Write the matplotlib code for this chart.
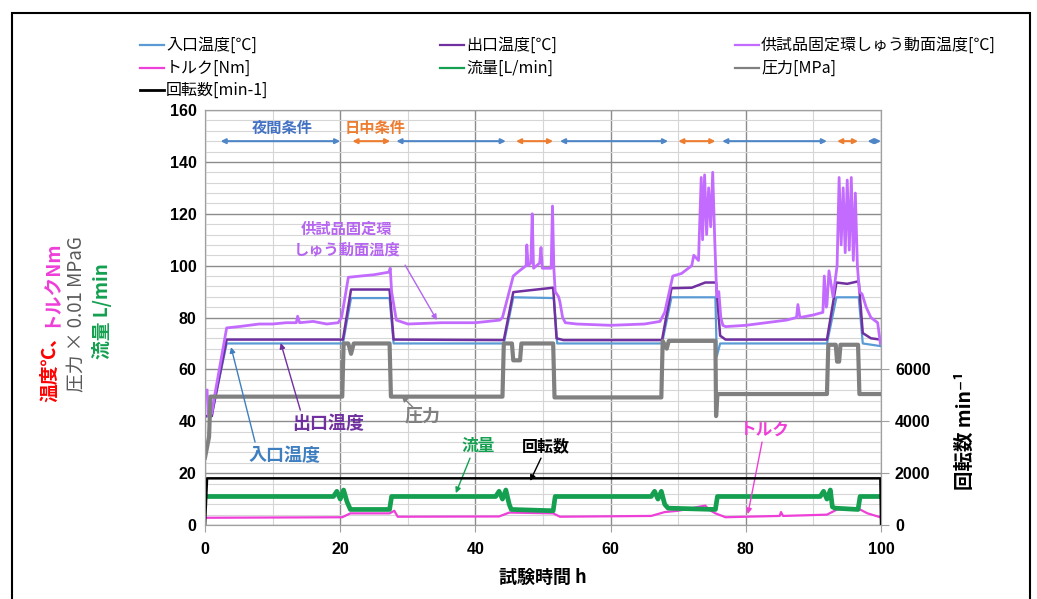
import matplotlib
matplotlib.use('Agg')
import matplotlib.pyplot as plt
from matplotlib.lines import Line2D
from matplotlib.patches import Rectangle
from matplotlib.ticker import MultipleLocator

NUM = ['Liberation Sans', 'DejaVu Sans']
JP = ['Noto Sans CJK JP', 'DejaVu Sans']
plt.rcParams['font.family'] = NUM

# --- data (time in h) ---
t_in = [0.3, 1.0, 1.2, 3.2, 20.4, 21.6, 27.3, 27.9, 44.2, 45.6, 51.6, 52.1,
        67.6, 69.0, 75.5, 75.7, 76.2, 92.0, 93.4, 96.7, 97.3, 99.9]
inlet = [42, 42, 45, 70, 70, 87.5, 87.5, 70, 70, 87.8, 87.5, 70,
         70, 87.8, 87.8, 65, 70, 70, 87.8, 87.8, 70, 69]

t_out = [0.3, 1.0, 1.2, 3.2, 20.4, 21.6, 27.3, 27.9, 44.2, 45.6, 48, 51.5, 52.0, 53,
         67.6, 69.0, 72, 74, 75.6, 76.2, 77, 92.0, 93.4, 95, 96.7, 97.3, 98.5, 99.9]
outlet = [42, 42, 45, 71.5, 71.5, 90.8, 90.8, 71.5, 71.3, 89.8, 90.5, 91.5, 72, 71.3,
          71.3, 91.3, 91.5, 93.5, 93.5, 73, 71.5, 71.5, 93.5, 93, 94, 74, 72, 71.5]

t_surf = [0.3, 0.5, 1.0, 1.3, 3.2, 5, 8, 10, 12, 13.5, 13.7, 14, 16, 18, 19.7, 20.2,
          21.2, 23, 25, 27.2, 27.4, 27.6, 28.3, 30, 35, 40, 43.6, 44.0, 45.6, 46.5,
          47.5, 47.6, 47.8, 48.2, 48.4, 48.6, 49.5, 49.7, 49.9, 51.2, 51.4, 51.6,
          51.8, 52.3, 52.5, 52.9, 53.3, 55, 60, 65, 67.3, 68.0, 69.2, 70.5, 72.0,
          72.3, 73.0, 73.4, 73.6, 73.9, 74.2, 74.5, 74.8, 75.1, 75.4, 75.7, 76.0,
          76.3, 76.6, 77, 80, 83, 86, 87.5, 87.7, 88, 90, 91.4, 91.6, 91.9, 92.0,
          92.3, 92.9, 93.5, 93.8, 94.1, 94.4, 94.7, 95.0, 95.3, 95.6, 95.9, 96.2,
          96.5, 96.8, 97.2, 97.8, 98.5, 99.5, 99.9]
surface = [52, 42, 43, 48, 76, 76.5, 77.5, 77.5, 78, 78, 80.5, 78, 78.5, 77.5, 78, 80,
           95.5, 96, 96.5, 97.5, 99, 90, 79, 77.5, 78, 78, 79, 80, 96, 98,
           100, 108, 100, 101, 120, 99, 101, 107, 99, 99, 123, 99,
           90, 88, 86, 80, 78, 77.5, 77, 77.5, 78.5, 82, 96, 97, 100,
           104, 102, 134, 110, 135, 112, 130, 115, 136, 110, 88, 90,
           80, 77, 76.5, 77, 78, 79, 80, 85, 80, 81, 82, 96, 84, 85,
           98, 88, 100, 134, 108, 130, 105, 133, 106, 134, 102, 128,
           100, 90, 89, 84, 80, 78, 70]

t_torque = [0.3, 20.3, 21.5, 27.3, 28, 28.5, 43.5, 45, 51.5, 52.5, 66, 68, 70, 72,
            74, 74.5, 75.5, 77, 80, 85, 85.2, 85.5, 92, 93.5, 96.5, 98, 99.9]
torque = [2.8, 3, 4.5, 4.5, 5.5, 3.2, 3.3, 4.8, 4.5, 3.2, 3.5, 5, 5.5, 6.5,
          7.5, 6, 4.5, 3, 3.2, 3.5, 5, 3.5, 4, 6, 6.5, 4.5, 3]

t_flow = [0.3, 19.0, 19.5, 20.0, 20.5, 21.0, 21.5, 27.3, 27.6, 43.0, 43.5, 44.0, 44.5,
          45.0, 45.3, 51.5, 51.8, 66.0, 66.5, 67.0, 67.5, 68.0, 68.5, 75.5, 75.8,
          91.0, 91.5, 92.0, 92.5, 92.8, 93.2, 96.6, 96.9, 99.9]
flow = [11, 11, 13, 10, 13.5, 9, 6, 6, 11, 11, 13, 10, 13.5,
        8, 6, 5.5, 11, 11, 13, 10, 13, 8, 6.5, 6, 11,
        11, 13, 10, 13.5, 7, 6.5, 6, 11, 11]

t_press = [0.0, 0.6, 0.8, 20.3, 20.5, 21.2, 21.6, 22, 27.3, 27.5, 44.0, 44.2, 45.4,
           45.6, 46.6, 46.8, 51.5, 51.7, 67.5, 67.7, 68.3, 68.6, 75.5, 75.6, 75.8,
           76.0, 92.0, 92.2, 93.3, 93.5, 93.8, 94.0, 96.6, 96.8, 99.9]
pressure = [26, 34, 49.5, 49.5, 70, 70, 66, 70, 70, 49.5, 49.5, 70, 70,
            63.5, 63.5, 70, 70, 49.2, 49.2, 71, 68, 71, 71, 42, 50.5,
            50.5, 50.5, 69.5, 69.5, 63, 63, 69.5, 69.5, 50.5, 50.5]

t_rot = [0.0, 0.3, 99.9, 100.0]
rotation = [0, 1800, 1800, 0]

cond_start = [2.3, 21.8, 28.3, 46.0, 52.5, 70.0, 76.5, 93.5, 98.0]
cond_end = [20.0, 27.4, 44.5, 51.5, 68.5, 75.5, 92.0, 96.6, 100.0]
cond_day = [False, True, False, True, False, True, False, True, False]

labels = ['入口温度[℃]', '出口温度[℃]', '供試品固定環しゅう動面温度[℃]',
          'トルク[Nm]', '流量[L/min]', '圧力[MPa]', '回転数[min-1]']
colors = ['#5B9BD5', '#7030A0', '#C36BFF', '#EE3FD8', '#14A050', '#808080', '#000000']

BLUE_C = '#4F86C6'
ORANGE_C = '#ED7D31'

fig = plt.figure(figsize=(10.37, 5.99), dpi=100)
ax = fig.add_axes([0.1977, 0.1235, 0.6519, 0.6928])

series = [(t_in, inlet, 1.6), (t_out, outlet, 1.8), (t_surf, surface, 2.0),
          (t_torque, torque, 1.6), (t_flow, flow, 3.4), (t_press, pressure, 3.0)]
handles = []
for (t, v, lw), c in zip(series, colors[:6]):
    h, = ax.plot(t, v, color=c, lw=lw, zorder=3)
    handles.append(h)

ax.set_xlim(0, 100)
ax.set_ylim(0, 160)
ax.xaxis.set_major_locator(MultipleLocator(20))
ax.xaxis.set_minor_locator(MultipleLocator(10))
ax.yaxis.set_major_locator(MultipleLocator(20))
ax.yaxis.set_minor_locator(MultipleLocator(4))
ax.grid(which='major', color='#8C8C8C', lw=1.0, zorder=0)
ax.grid(which='minor', color='#D6D6D6', lw=0.8, zorder=0)
ax.set_axisbelow(True)
for s in ax.spines.values():
    s.set_color('#A0A0A0')
ax.tick_params(axis='x', which='major', length=5, color='#A0A0A0', pad=7,
               labelsize=11.5)
ax.tick_params(axis='y', which='major', length=0, pad=6, labelsize=11.5)
ax.tick_params(which='minor', length=0)
for lab in ax.get_xticklabels() + ax.get_yticklabels():
    lab.set_fontweight('bold')

ax.set_xlabel('試験時間 h', family=JP, fontsize=13, fontweight='bold', labelpad=8)

ax2 = ax.twinx()
h, = ax2.plot(t_rot, rotation, color=colors[6], lw=1.8)
handles.append(h)
ax2.set_ylim(0, 16000)
ax2.set_yticks([0, 2000, 4000, 6000])
ax2.tick_params(axis='y', length=6, color='#A0A0A0', pad=4, labelsize=11.5)
for lab in ax2.get_yticklabels():
    lab.set_fontweight('bold')
for s in ax2.spines.values():
    s.set_color('#A0A0A0')

W, H = 1037, 599
fig.text(965 / W, 1 - 431 / H, '回転数 min⁻¹', family=JP, fontsize=14,
         fontweight='bold', rotation=90, ha='center', va='center')

# condition arrows
for a, b, day in zip(cond_start, cond_end, cond_day):
    ax.annotate('', xy=(b, 148), xytext=(a, 148),
                arrowprops=dict(arrowstyle='<|-|>', color=ORANGE_C if day else BLUE_C,
                                lw=1.5, mutation_scale=7, shrinkA=0, shrinkB=0))
ax.text(11.4, 153, '夜間条件', family=JP, color='#4472C4', fontsize=11,
        fontweight='bold', ha='center', va='center')
ax.text(25.1, 153, '日中条件', family=JP, color=ORANGE_C, fontsize=11,
        fontweight='bold', ha='center', va='center')

# callouts
def callout(text, xy, xytext, tail, color, size=12):
    ax.text(xytext[0], xytext[1], text, family=JP, color=color, fontsize=size,
            fontweight='bold', ha='center', va='center', linespacing=1.35, zorder=6)
    ax.annotate('', xy=xy, xytext=tail,
                arrowprops=dict(arrowstyle='-|>', color=color, lw=1.0,
                                mutation_scale=8, shrinkA=0, shrinkB=0), zorder=6)

callout('供試品固定環\nしゅう動面温度', (34.3, 79), (21.0, 110.3), (29.6, 100.2),
        '#B565F0', size=11)
callout('出口温度', (11.2, 70.2), (18.2, 39.3), (14.1, 44.3), '#7030A0', size=13)
callout('入口温度', (3.85, 68.6), (11.8, 26.6), (7.4, 32), '#3F7FC0', size=13)
callout('圧力', (29.1, 49.7), (32.2, 42.0), (30.9, 45.0), '#808080', size=13)
callout('流量', (37.1, 12.3), (40.4, 30.5), (39.2, 25.8), '#14A050', size=12)
callout('回転数', (48.1, 17), (50.4, 30.5), (49.7, 25.8), '#000000', size=11.5)
callout('トルク', (80.3, 4.2), (82.8, 36.6), (82.4, 32), '#EE3FD8', size=12)

# left multi-colour axis title
t1 = fig.text(50 / W, 1 - 402 / H, '温度℃、', family=JP, color='#FF0000', fontsize=13.5,
              fontweight='bold', rotation=90, ha='center', va='bottom')
fig.canvas.draw()
ax.annotate('トルクNm', xy=(0.5, 1.0), xycoords=t1, family=JP, color='#EE3FD8',
            fontsize=13.5, fontweight='bold', rotation=90, ha='center', va='bottom',
            annotation_clip=False)
fig.text(77 / W, 1 - 314 / H, '圧力 × 0.01 MPaG', family=JP, color='#595959',
         fontsize=13.5, rotation=90, ha='center', va='center')
fig.text(102 / W, 1 - 311 / H, '流量 L/min', family=JP, color='#14A050',
         fontsize=13.5, fontweight='bold', rotation=90, ha='center', va='center')

# legend drawn in figure space
cols_x = [140, 440, 735]
rows_y = [45, 68, 90]
for i, (h, lab) in enumerate(zip(handles, labels)):
    x0 = cols_x[i % 3]
    y0 = rows_y[i // 3]
    fig.add_artist(Line2D([x0 / W, (x0 + 24) / W], [1 - y0 / H, 1 - y0 / H],
                          color=h.get_color(), lw=2.0 if i == 6 else 1.6))
    fig.text((x0 + 26) / W, 1 - y0 / H, lab, family=JP, fontsize=11.5,
             ha='left', va='center')

fig.add_artist(Rectangle((12 / W, -0.01), (1030 - 12) / W, 1 - 13 / H + 0.01,
                         transform=fig.transFigure, fill=False, ec='black', lw=1.5))

fig.savefig('out.png', dpi=100)
